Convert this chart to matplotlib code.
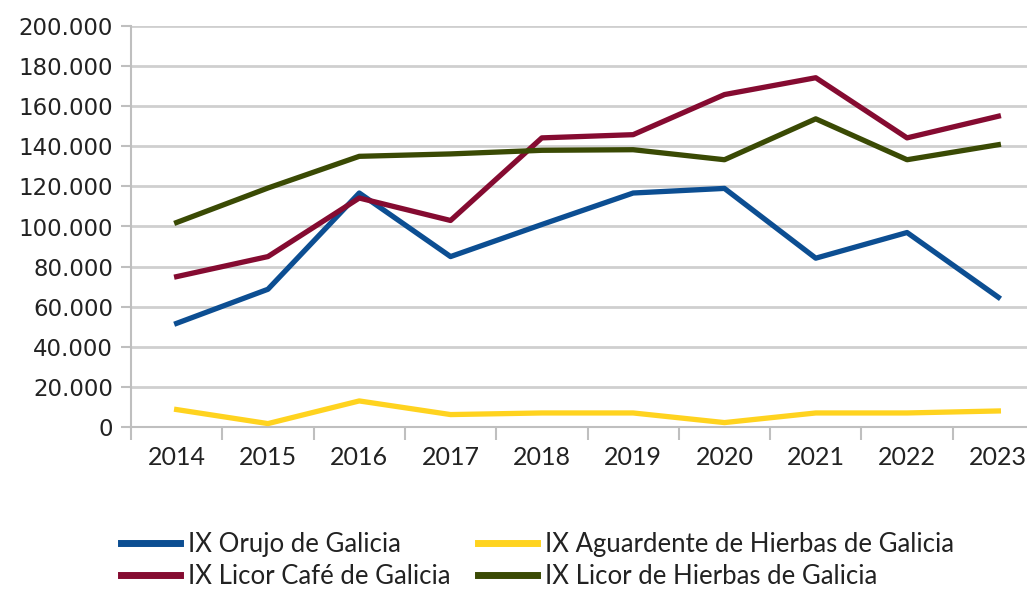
import matplotlib
matplotlib.use("Agg")
import matplotlib.pyplot as plt
from matplotlib.ticker import FuncFormatter, FixedLocator

years = ["2014", "2015", "2016", "2017", "2018", "2019", "2020", "2021", "2022", "2023"]
orujo = [51700, 68700, 116700, 85000, 101000, 116700, 119000, 84200, 97000, 64700]
aguardente = [8700, 1700, 13000, 6200, 7000, 7000, 2200, 7000, 7000, 8000]
licor_cafe = [75000, 85000, 114200, 103000, 144200, 145800, 165800, 174200, 144200, 155000]
licor_hierbas = [102000, 119200, 135000, 136200, 138000, 138300, 133300, 153700, 133300, 140800]

series_names = ["IX Orujo de Galicia", "IX Licor Café de Galicia",
                "IX Aguardente de Hierbas de Galicia", "IX Licor de Hierbas de Galicia"]
colors = {"orujo": "#0C4E92", "cafe": "#850B31", "aguardente": "#FFD31F", "hierbas": "#3A4A04"}

W, H = 1027, 594
fig = plt.figure(figsize=(W / 100, H / 100), dpi=100)
ax = fig.add_axes([131 / W, 1 - 427 / H, 913 / W, 401 / H])

x = list(range(len(years)))
lw = 3.8
l1, = ax.plot(x, orujo, color=colors["orujo"], lw=lw, zorder=3)
l3, = ax.plot(x, aguardente, color=colors["aguardente"], lw=lw, zorder=3)
l2, = ax.plot(x, licor_cafe, color=colors["cafe"], lw=lw, zorder=3)
l4, = ax.plot(x, licor_hierbas, color=colors["hierbas"], lw=lw, zorder=3)

ax.set_xlim(-0.5, len(years) - 0.5)
ax.set_ylim(0, 200000)
ax.set_yticks(range(0, 200001, 20000))
ax.yaxis.set_major_formatter(FuncFormatter(lambda v, p: f"{int(v):,}".replace(",", ".")))
ax.grid(axis="y", color="#CFCFCF", lw=2, zorder=0)
ax.set_axisbelow(True)

ax.xaxis.set_major_locator(FixedLocator([i - 0.5 for i in range(len(years) + 1)]))
ax.xaxis.set_minor_locator(FixedLocator(x))
ax.set_xticklabels([])
ax.set_xticklabels(years, minor=True)
ax.tick_params(axis="x", which="major", length=9, width=1.5, color="#BFBFBF")
ax.tick_params(axis="x", which="minor", length=0, pad=14, labelsize=18, labelcolor="#222222")
ax.tick_params(axis="y", length=7, width=1.5, color="#BFBFBF", pad=6, labelsize=16.5, labelcolor="#222222")
for lab in ax.get_xticklabels(minor=True):
    lab.set_fontfamily(["Lato", "DejaVu Sans"])

for s in ["top", "right"]:
    ax.spines[s].set_visible(False)
for s in ["left", "bottom"]:
    ax.spines[s].set_color("#BFBFBF")
    ax.spines[s].set_linewidth(1.5)

leg = fig.legend([l1, l2, l3, l4], series_names, ncol=2, frameon=False,
                 loc="upper left", bbox_to_anchor=(113 / W, 1 - 524 / H),
                 prop={"family": ["Lato", "DejaVu Sans"], "size": 18.5},
                 handlelength=2.3, handletextpad=0.32, columnspacing=1.05,
                 labelspacing=0.28, borderaxespad=0, borderpad=0.3)
for line in leg.get_lines():
    line.set_linewidth(5)
for t in leg.get_texts():
    t.set_color("#222222")

fig.savefig("out.png", dpi=100)
